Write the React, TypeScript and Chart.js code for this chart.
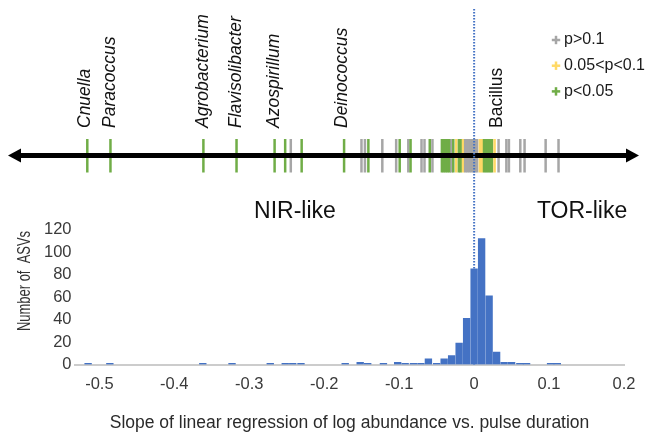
import React, { useEffect, useRef } from 'react';
import { Chart, registerables } from 'chart.js';

Chart.register(...registerables);

// ---------- data ----------
// Histogram of ASV slopes (bin centre, count)
const BIN_CENTERS = [
  -0.515, -0.486, -0.362, -0.323, -0.272, -0.252, -0.242, -0.231, -0.172,
  -0.152, -0.142, -0.121, -0.102, -0.092, -0.081, -0.071, -0.061, -0.05,
  -0.04, -0.03, -0.02, -0.01, 0.0, 0.01, 0.02, 0.03, 0.04, 0.05, 0.061,
  0.07, 0.102, 0.111,
];
const BIN_COUNTS = [
  1, 1, 1, 1, 1, 1, 1, 1, 1,
  2, 1, 1, 2, 1, 1, 1, 5, 1,
  5, 8, 19, 41, 85, 112, 61, 11, 2, 2, 1,
  1, 1, 1,
];

const X_TICKS = [-0.5, -0.4, -0.3, -0.2, -0.1, 0, 0.1, 0.2];
const Y_TICKS = [0, 20, 40, 60, 80, 100, 120];
const X_MIN = -0.5325;
const X_MAX = 0.2;
const Y_MAX = 120;

// Individual ASV slopes drawn on the strip, with significance class
const STRIP_SLOPES = [
  -0.5161, -0.4852, -0.3612, -0.317, -0.2662, -0.2521, -0.2446, -0.2301,
  -0.1735, -0.1503, -0.1457, -0.1411, -0.1225, -0.104, -0.0993, -0.0878,
  -0.0848, -0.0702, -0.0662, -0.0592, -0.0556, -0.043, -0.0404, -0.0377,
  -0.0351, -0.0325, -0.0301, -0.0278, -0.0238, -0.0203, -0.0179, -0.0148,
  -0.0119, -0.0093, -0.0066, -0.004, -0.0013, 0.0013, 0.004, 0.0077, 0.0106,
  0.0132, 0.0159, 0.0185, 0.0212, 0.0238, 0.0273, 0.0326, 0.043, 0.0464,
  0.0616, 0.0673, 0.0954, 0.1126,
];
const STRIP_P = [
  'sig', 'sig', 'sig', 'sig', 'sig', 'sig', 'ns', 'sig',
  'sig', 'ns', 'ns', 'sig', 'ns', 'ns', 'sig', 'ns',
  'sig', 'ns', 'ns', 'sig', 'ns', 'sig', 'sig', 'sig',
  'sig', 'sig', 'ns', 'sig', 'marg', 'sig', 'sig', 'marg',
  'ns', 'ns', 'ns', 'ns', 'ns', 'ns', 'ns', 'marg', 'marg',
  'sig', 'sig', 'sig', 'sig', 'sig', 'marg', 'ns', 'ns', 'ns',
  'ns', 'ns', 'ns', 'ns',
];

const GENUS_NAMES = ['Cnuella', 'Paracoccus', 'Agrobacterium', 'Flavisolibacter', 'Azospirillum', 'Deinococcus', 'Bacillus'];
const GENUS_SLOPES = [-0.5195, -0.4852, -0.3612, -0.317, -0.2668, -0.1755, 0.0305];
const GENUS_ITALIC = [true, true, true, true, true, true, false];

const LEGEND_KEYS = ['ns', 'marg', 'sig'];
const LEGEND_LABELS = ['p>0.1', '0.05<p<0.1', 'p<0.05'];

const SIDE_LABELS = ['NIR-like', 'TOR-like'];
const SIDE_SLOPES = [-0.239, 0.144];

const X_TITLE = 'Slope of linear regression of log abundance vs. pulse duration';
const Y_TITLE = 'Number of  ASVs';

// ---------- style ----------
const FONT = '"Liberation Sans", Arial, sans-serif';
const COLORS: Record<string, string> = { ns: '#A6A6A6', marg: '#FFD966', sig: '#70AD47' };
const BAR_COLOR = '#4472C4';

const overlay = {
  id: 'overlay',
  beforeDatasetsDraw(chart: any) {
    const ctx: CanvasRenderingContext2D = chart.ctx;
    const xs = chart.scales.x;
    const area = chart.chartArea;
    ctx.save();

    // strip lines
    const stripTop = 139;
    const stripBottom = 172.5;
    const axisY = 155.5;
    ctx.lineWidth = 2.5;
    STRIP_SLOPES.forEach((v, i) => {
      const px = xs.getPixelForValue(v);
      ctx.strokeStyle = COLORS[STRIP_P[i]];
      ctx.beginPath();
      ctx.moveTo(px, stripTop);
      ctx.lineTo(px, stripBottom);
      ctx.stroke();
    });

    // double-headed arrow
    const leftTip = 8;
    const rightTip = 639;
    const headLen = 13;
    const headHalf = 7;
    ctx.strokeStyle = '#000';
    ctx.fillStyle = '#000';
    ctx.lineWidth = 4.8;
    ctx.beginPath();
    ctx.moveTo(leftTip + headLen - 1, axisY);
    ctx.lineTo(rightTip - headLen + 1, axisY);
    ctx.stroke();
    ctx.beginPath();
    ctx.moveTo(leftTip, axisY);
    ctx.lineTo(leftTip + headLen, axisY - headHalf);
    ctx.lineTo(leftTip + headLen, axisY + headHalf);
    ctx.closePath();
    ctx.fill();
    ctx.beginPath();
    ctx.moveTo(rightTip, axisY);
    ctx.lineTo(rightTip - headLen, axisY - headHalf);
    ctx.lineTo(rightTip - headLen, axisY + headHalf);
    ctx.closePath();
    ctx.fill();

    // dotted zero line
    const zx = xs.getPixelForValue(0);
    ctx.strokeStyle = BAR_COLOR;
    ctx.lineWidth = 2;
    ctx.setLineDash([1.5, 1.5]);
    ctx.beginPath();
    ctx.moveTo(zx, 9);
    ctx.lineTo(zx, area.bottom);
    ctx.stroke();
    ctx.setLineDash([]);

    // genus labels
    ctx.fillStyle = '#111';
    GENUS_NAMES.forEach((name, i) => {
      const px = xs.getPixelForValue(GENUS_SLOPES[i]);
      ctx.save();
      ctx.translate(px, 128);
      ctx.rotate(-Math.PI / 2);
      ctx.font = `${GENUS_ITALIC[i] ? 'italic ' : ''}17.5px ${FONT}`;
      ctx.textAlign = 'left';
      ctx.textBaseline = 'middle';
      ctx.fillText(name, 0, 0);
      ctx.restore();
    });

    // legend
    const legX = 556;
    const legY0 = 40;
    const legStep = 25.7;
    LEGEND_LABELS.forEach((lab, i) => {
      const y = legY0 + i * legStep;
      ctx.fillStyle = COLORS[LEGEND_KEYS[i]];
      ctx.fillRect(legX - 4.2, y - 1.25, 8.4, 2.5);
      ctx.fillRect(legX - 1.25, y - 4.2, 2.5, 8.4);
      ctx.fillStyle = '#1a1a1a';
      ctx.font = `16px ${FONT}`;
      ctx.textAlign = 'left';
      ctx.textBaseline = 'middle';
      ctx.fillText(lab, legX + 8, y);
    });

    // side labels
    ctx.fillStyle = '#111';
    ctx.font = `23px ${FONT}`;
    ctx.textAlign = 'center';
    ctx.textBaseline = 'middle';
    SIDE_LABELS.forEach((lab, i) => {
      ctx.fillText(lab, xs.getPixelForValue(SIDE_SLOPES[i]), 212);
    });

    // y title (condensed, as in the original)
    ctx.save();
    ctx.translate(25, 281);
    ctx.rotate(-Math.PI / 2);
    ctx.scale(0.72, 1);
    ctx.font = `18px ${FONT}`;
    ctx.fillStyle = '#333';
    ctx.textAlign = 'center';
    ctx.textBaseline = 'middle';
    ctx.fillText(Y_TITLE, 0, 0);
    ctx.restore();

    ctx.restore();
  },
};

export default function App() {
  const ref = useRef<HTMLCanvasElement>(null);
  useEffect(() => {
    document.body.style.margin = '0';
    const canvas = ref.current;
    if (!canvas) return;
    const chart = new Chart(canvas, {
      type: 'bar',
      data: {
        datasets: [
          {
            data: BIN_CENTERS.map((c, i) => ({ x: c, y: BIN_COUNTS[i] })),
            backgroundColor: BAR_COLOR,
            borderWidth: 0,
            barThickness: 6.7,
          } as any,
        ],
      },
      options: {
        responsive: false,
        devicePixelRatio: 1,
        animation: false,
        layout: { padding: { top: 229.5, right: 18, bottom: 0, left: 0 } },
        plugins: { legend: { display: false }, tooltip: { enabled: false } },
        scales: {
          x: {
            type: 'linear',
            offset: false,
            min: X_MIN,
            max: X_MAX,
            grid: { display: false, drawTicks: false },
            border: { display: true, color: '#cccccc', width: 2 },
            ticks: {
              padding: 10.5,
              maxRotation: 0,
              autoSkip: false,
              color: '#3a3a3a',
              font: { family: FONT, size: 16.5 },
              callback: (v: any) => String(v),
            },
            afterBuildTicks: (s: any) => {
              s.ticks = X_TICKS.map((v) => ({ value: v }));
            },
            afterFit: (s: any) => {
              s.height = 71.5;
            },
            title: {
              display: true,
              text: X_TITLE,
              color: '#2a2a2a',
              font: { family: FONT, size: 17.5 },
              padding: { top: 0, bottom: 2.5 },
            },
          } as any,
          y: {
            type: 'linear',
            min: 0,
            max: Y_MAX,
            grid: { display: false, drawTicks: false },
            border: { display: false },
            ticks: {
              padding: 3.5,
              autoSkip: false,
              color: '#3a3a3a',
              font: { family: FONT, size: 16.5 },
              callback: (v: any) => String(v),
            },
            afterBuildTicks: (s: any) => {
              s.ticks = Y_TICKS.map((v) => ({ value: v }));
            },
            afterFit: (s: any) => {
              s.width = 75;
            },
          } as any,
        },
      },
      plugins: [overlay],
    });
    return () => chart.destroy();
  }, []);
  return (
    <div style={{ width: 646, height: 436, background: '#fff' }}>
      <canvas ref={ref} width={646} height={436} style={{ display: 'block' }} />
    </div>
  );
}
